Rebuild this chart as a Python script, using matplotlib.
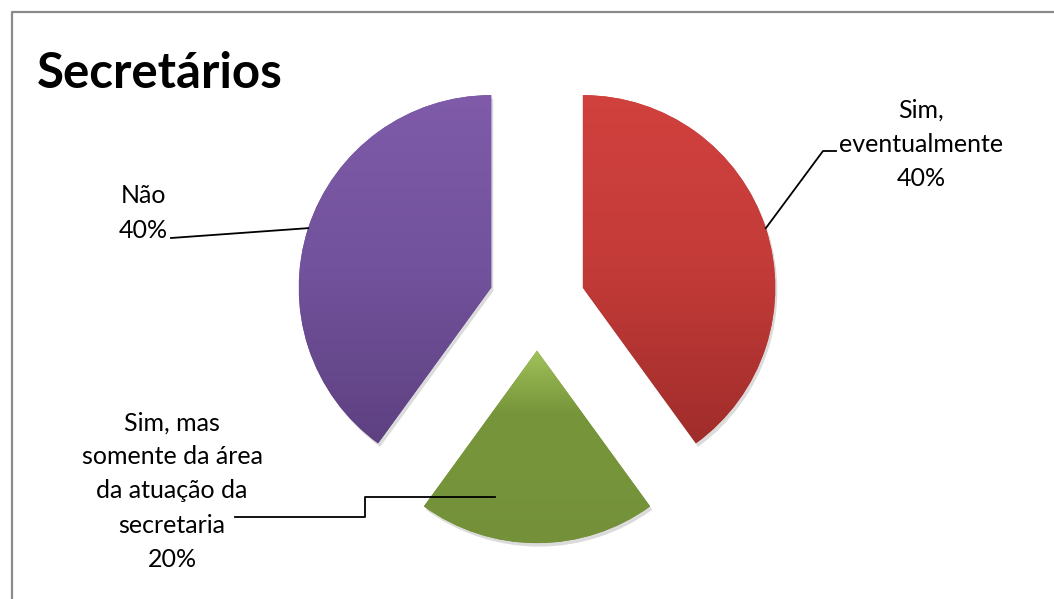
import numpy as np
import matplotlib
matplotlib.use("Agg")
import matplotlib.pyplot as plt
from matplotlib import patheffects
from matplotlib.colors import LinearSegmentedColormap

# Survey answers for the "Secretários" group
categories = ["Sim,\neventualmente", "Sim, mas\nsomente da área\nda atuação da\nsecretaria", "Não"]
shares = [40, 20, 40]

W, H = 1054, 599
DPI = 100
fig = plt.figure(figsize=(W / DPI, H / DPI), dpi=DPI)
ax = fig.add_axes([0, 0, 1, 1])

# pie geometry in pixels: centre and radius; axis limits keep 1 unit == R px
CX, CY, R = 537, 302.5, 192.5


def set_limits():
    ax.set_xlim(-CX / R, (W - CX) / R)
    ax.set_ylim(-(H - CY) / R, CY / R)
    ax.set_aspect("auto")
    ax.axis("off")


def px(x, y):
    """Pixel position (from top-left) to data coordinates."""
    return (x - CX) / R, (CY - y) / R


FONT = ["Lato", "DejaVu Sans"]

# vertical gradient stops for each slice (top -> bottom)
gradients = [
    ["#d1413e", "#c33b38", "#a02d2b"],
    ["#a0c25a", "#76943a", "#76943a", "#74913a"],
    ["#7f5ba9", "#72529c", "#5e4181"],
]
base_colors = ["#c0504d", "#76943a", "#6d4f96"]

explode = 0.25
wedges, _ = ax.pie(
    shares,
    colors=base_colors,
    startangle=90,
    counterclock=False,
    explode=[explode] * len(shares),
    radius=1.0,
    center=(0, 0),
    wedgeprops=dict(linewidth=0),
    frame=True,
)
set_limits()

for w, stops in zip(wedges, gradients):
    w.set_path_effects([
        patheffects.SimplePatchShadow(offset=(1.5, -2.5), shadow_rgbFace="#000000", alpha=0.14),
        patheffects.Normal(),
    ])
    bb = w.get_path().get_extents(w.get_patch_transform())
    cmap = LinearSegmentedColormap.from_list("g", stops)
    grad = np.linspace(0, 1, 256).reshape(-1, 1)
    im = ax.imshow(grad, cmap=cmap, aspect="auto", origin="upper",
                   extent=(bb.x0, bb.x1, bb.y0, bb.y1), zorder=w.get_zorder() + 0.1,
                   interpolation="bilinear")
    im.set_clip_path(w)

set_limits()


# arc point at the middle of a slice
def arc_mid(i):
    start = 90 - sum(shares[:i]) / sum(shares) * 360
    mid = np.deg2rad(start - shares[i] / sum(shares) * 360 / 2)
    d = np.array([np.cos(mid), np.sin(mid)])
    return d * explode + d * 1.0


labels = [f"{c}\n{v}%" for c, v in zip(categories, shares)]
lab_kw = dict(fontsize=18, family=FONT, color="black", ha="center", va="center",
              linespacing=1.58, multialignment="center")

# Sim, eventualmente
p = arc_mid(0)
ax.plot([p[0], px(823, 151)[0], px(836, 151)[0]],
        [p[1], px(823, 151)[1], px(836, 151)[1]], color="black", lw=1.3, zorder=5)
ax.text(*px(921, 144), labels[0], **lab_kw)

# Sim, mas somente ...
pts = [px(495, 497), px(365, 497), px(365, 517), px(235, 517)]
ax.plot([q[0] for q in pts], [q[1] for q in pts], color="black", lw=1.3, zorder=5)
ax.text(*px(172, 491), labels[1], **lab_kw)

# Não
p = arc_mid(2)
ax.plot([p[0], px(171, 238)[0]], [p[1], px(171, 238)[1]], color="black", lw=1.3, zorder=5)
ax.text(*px(143, 213), labels[2], **lab_kw)

# chart title
ax.text(*px(37, 88), "Secretários", fontsize=35.5, fontweight="bold", family=FONT,
        ha="left", va="baseline", color="black")

# chart area border
fig.add_artist(plt.Line2D([11.5 / W, 11.5 / W, 1.0], [0.0, 1 - 11.5 / H, 1 - 11.5 / H],
                          transform=fig.transFigure, color="#8a8a8a", lw=1.6))

fig.savefig("out.png", dpi=DPI)
